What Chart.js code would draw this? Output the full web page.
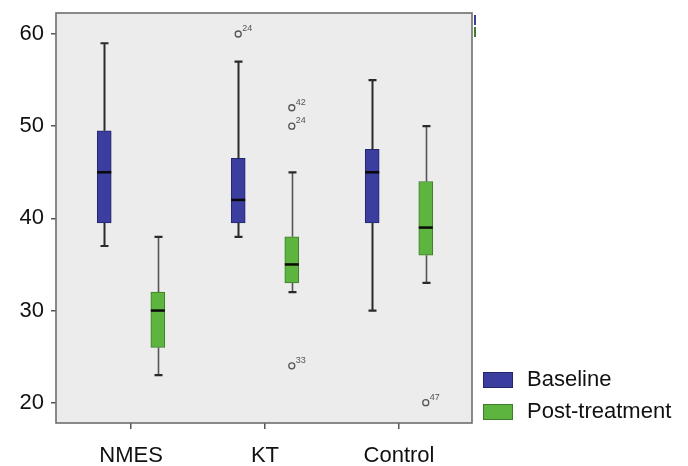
<!DOCTYPE html>
<html lang="en">
<head>
  <meta charset="UTF-8" />
  <title>Baseline vs post-treatment</title>
  <style>
    body { margin: 0; background: #fff; }
    #wrap { width: 688px; height: 466px; }
  </style>
</head>
<body>
  <div id="wrap"><canvas id="chart" width="688" height="466"></canvas></div>

  <script src="https://cdn.jsdelivr.net/npm/chart.js"></script>
  <script>
    const categories = ['NMES', 'KT', 'Control'];
    const seriesNames = ['Baseline', 'Post-treatment'];
    const yTicks = [20, 30, 40, 50, 60];

    // Baseline box stats per group
    const baseMin = [37, 38, 30];
    const baseQ1  = [39.5, 39.5, 39.5];
    const baseMed = [45, 42, 45];
    const baseQ3  = [49.5, 46.5, 47.5];
    const baseMax = [59, 57, 55];

    // Post-treatment box stats per group
    const postMin = [23, 32, 33];
    const postQ1  = [26, 33, 36];
    const postMed = [30, 35, 39];
    const postQ3  = [32, 38, 44];
    const postMax = [38, 45, 50];

    // outliers (group index, series index, value, case number)
    const outlierGroup  = [1, 1, 1, 1, 2];
    const outlierSeries = [0, 1, 1, 1, 1];
    const outlierValue  = [60, 52, 50, 24, 20];
    const outlierCase   = ['24', '42', '24', '33', '47'];

    const stats = [
      { min: baseMin, q1: baseQ1, med: baseMed, q3: baseQ3, max: baseMax },
      { min: postMin, q1: postQ1, med: postMed, q3: postQ3, max: postMax }
    ];
    const fills = ['#3b3d9f', '#5db43f'];
    const edges = ['#23256e', '#3d7c2a'];
    const whiskerCol = ['#2a2a2a', '#555555'];
    const shift = [-0.2, 0.2];
    const FONT = '"Liberation Sans", Arial, sans-serif';

    Chart.defaults.font.family = FONT;
    Chart.defaults.color = '#111';

    const boxParts = {
      id: 'boxParts',
      beforeDraw(chart) {
        const { ctx, chartArea: a } = chart;
        ctx.save();
        ctx.fillStyle = '#ececec';
        ctx.fillRect(a.left, a.top, a.right - a.left, a.bottom - a.top);
        ctx.restore();
      },
      beforeDatasetsDraw(chart) {
        const { ctx, scales: { x, y } } = chart;
        ctx.save();
        ctx.lineCap = 'butt';
        stats.forEach((st, s) => {
          categories.forEach((c, g) => {
            const px = Math.round(x.getPixelForValue(g + shift[s])) + 0.5;
            const yMax = y.getPixelForValue(st.max[g]);
            const yMin = y.getPixelForValue(st.min[g]);
            ctx.strokeStyle = whiskerCol[s];
            ctx.lineWidth = s === 0 ? 2 : 1.6;
            ctx.beginPath();
            ctx.moveTo(px, yMax); ctx.lineTo(px, y.getPixelForValue(st.q3[g]));
            ctx.moveTo(px, yMin); ctx.lineTo(px, y.getPixelForValue(st.q1[g]));
            ctx.stroke();
            ctx.lineWidth = 2.2;
            ctx.strokeStyle = '#2a2a2a';
            ctx.beginPath();
            ctx.moveTo(px - 4, yMax); ctx.lineTo(px + 4, yMax);
            ctx.moveTo(px - 4, yMin); ctx.lineTo(px + 4, yMin);
            ctx.stroke();
          });
        });
        ctx.restore();
      },
      afterDatasetsDraw(chart) {
        const { ctx, chartArea: a, scales: { x, y } } = chart;
        ctx.save();
        // medians
        ctx.strokeStyle = '#0a0a0a';
        ctx.lineWidth = 2.5;
        stats.forEach((st, s) => {
          categories.forEach((c, g) => {
            const px = x.getPixelForValue(g + shift[s]);
            const py = y.getPixelForValue(st.med[g]);
            ctx.beginPath();
            ctx.moveTo(px - 7, py); ctx.lineTo(px + 7, py);
            ctx.stroke();
          });
        });
        // case labels next to outliers
        ctx.fillStyle = '#555';
        ctx.font = '9px ' + FONT;
        ctx.textBaseline = 'bottom';
        outlierValue.forEach((v, i) => {
          const px = x.getPixelForValue(outlierGroup[i] + shift[outlierSeries[i]]);
          const py = y.getPixelForValue(v);
          ctx.fillText(outlierCase[i], px + 4, py - 1);
        });
        // frame
        ctx.strokeStyle = '#6e6e6e';
        ctx.lineWidth = 1.6;
        ctx.strokeRect(a.left, a.top, a.right - a.left, a.bottom - a.top);
        // little clipped colour stubs at the top right corner of the frame
        ctx.fillStyle = fills[0];
        ctx.fillRect(a.right + 2, a.top + 2, 2, 10);
        ctx.fillStyle = edges[1];
        ctx.fillRect(a.right + 2, a.top + 14, 2, 10);
        ctx.restore();
      },
      afterDraw(chart) {
        const { ctx, chartArea: a } = chart;
        ctx.save();
        ctx.font = '22px ' + FONT;
        ctx.textBaseline = 'middle';
        seriesNames.forEach((name, s) => {
          const bx = a.right + 11;
          const by = a.bottom - 51 + s * 32;
          ctx.fillStyle = fills[s];
          ctx.fillRect(bx, by, 30, 16);
          ctx.strokeStyle = edges[s];
          ctx.lineWidth = 1;
          ctx.strokeRect(bx + 0.5, by + 0.5, 29, 15);
          ctx.fillStyle = '#111';
          ctx.fillText(name, bx + 44, by + 8);
        });
        ctx.restore();
      }
    };

    const boxSets = stats.map((st, s) => ({
      type: 'bar',
      label: seriesNames[s],
      data: categories.map((c, g) => ({ x: g + shift[s], y: [st.q1[g], st.q3[g]] })),
      backgroundColor: fills[s],
      borderColor: edges[s],
      borderWidth: 1,
      borderSkipped: false,
      barThickness: 14,
      grouped: false
    }));

    const outlierSet = {
      type: 'scatter',
      label: 'outliers',
      data: outlierValue.map((v, i) => ({ x: outlierGroup[i] + shift[outlierSeries[i]], y: v })),
      pointStyle: 'circle',
      pointRadius: 3,
      pointBorderWidth: 1.3,
      pointBorderColor: '#555',
      pointBackgroundColor: 'rgba(0,0,0,0)'
    };

    new Chart(document.getElementById('chart'), {
      type: 'bar',
      data: { datasets: [...boxSets, outlierSet] },
      options: {
        responsive: false,
        animation: false,
        layout: { padding: { top: 13, right: 216, left: 0, bottom: 0 } },
        plugins: { legend: { display: false }, tooltip: { enabled: false } },
        scales: {
          x: {
            type: 'linear',
            min: -0.56,
            max: 2.545,
            offset: false,
            afterBuildTicks: (scale) => { scale.ticks = categories.map((c, i) => ({ value: i })); },
            afterFit: (scale) => {
              scale.height = 43;
              scale.paddingLeft = 0;
              scale.paddingRight = 0;
            },
            ticks: {
              callback: (v) => categories[v],
              font: { size: 22 },
              padding: 14,
              maxRotation: 0,
              autoSkip: false
            },
            grid: { offset: false, drawOnChartArea: false, tickLength: 6, tickColor: '#555', lineWidth: 1.5 },
            border: { display: false }
          },
          y: {
            type: 'linear',
            min: 17.8,
            max: 62.28,
            afterBuildTicks: (scale) => { scale.ticks = yTicks.map((v) => ({ value: v })); },
            afterFit: (scale) => {
              scale.width = 56;
              scale.paddingTop = 0;
              scale.paddingBottom = 0;
            },
            ticks: { font: { size: 22 }, padding: 7 },
            grid: { drawOnChartArea: false, tickLength: 5, tickColor: '#555', lineWidth: 1.5 },
            border: { display: false }
          }
        }
      },
      plugins: [boxParts]
    });
  </script>
</body>
</html>
